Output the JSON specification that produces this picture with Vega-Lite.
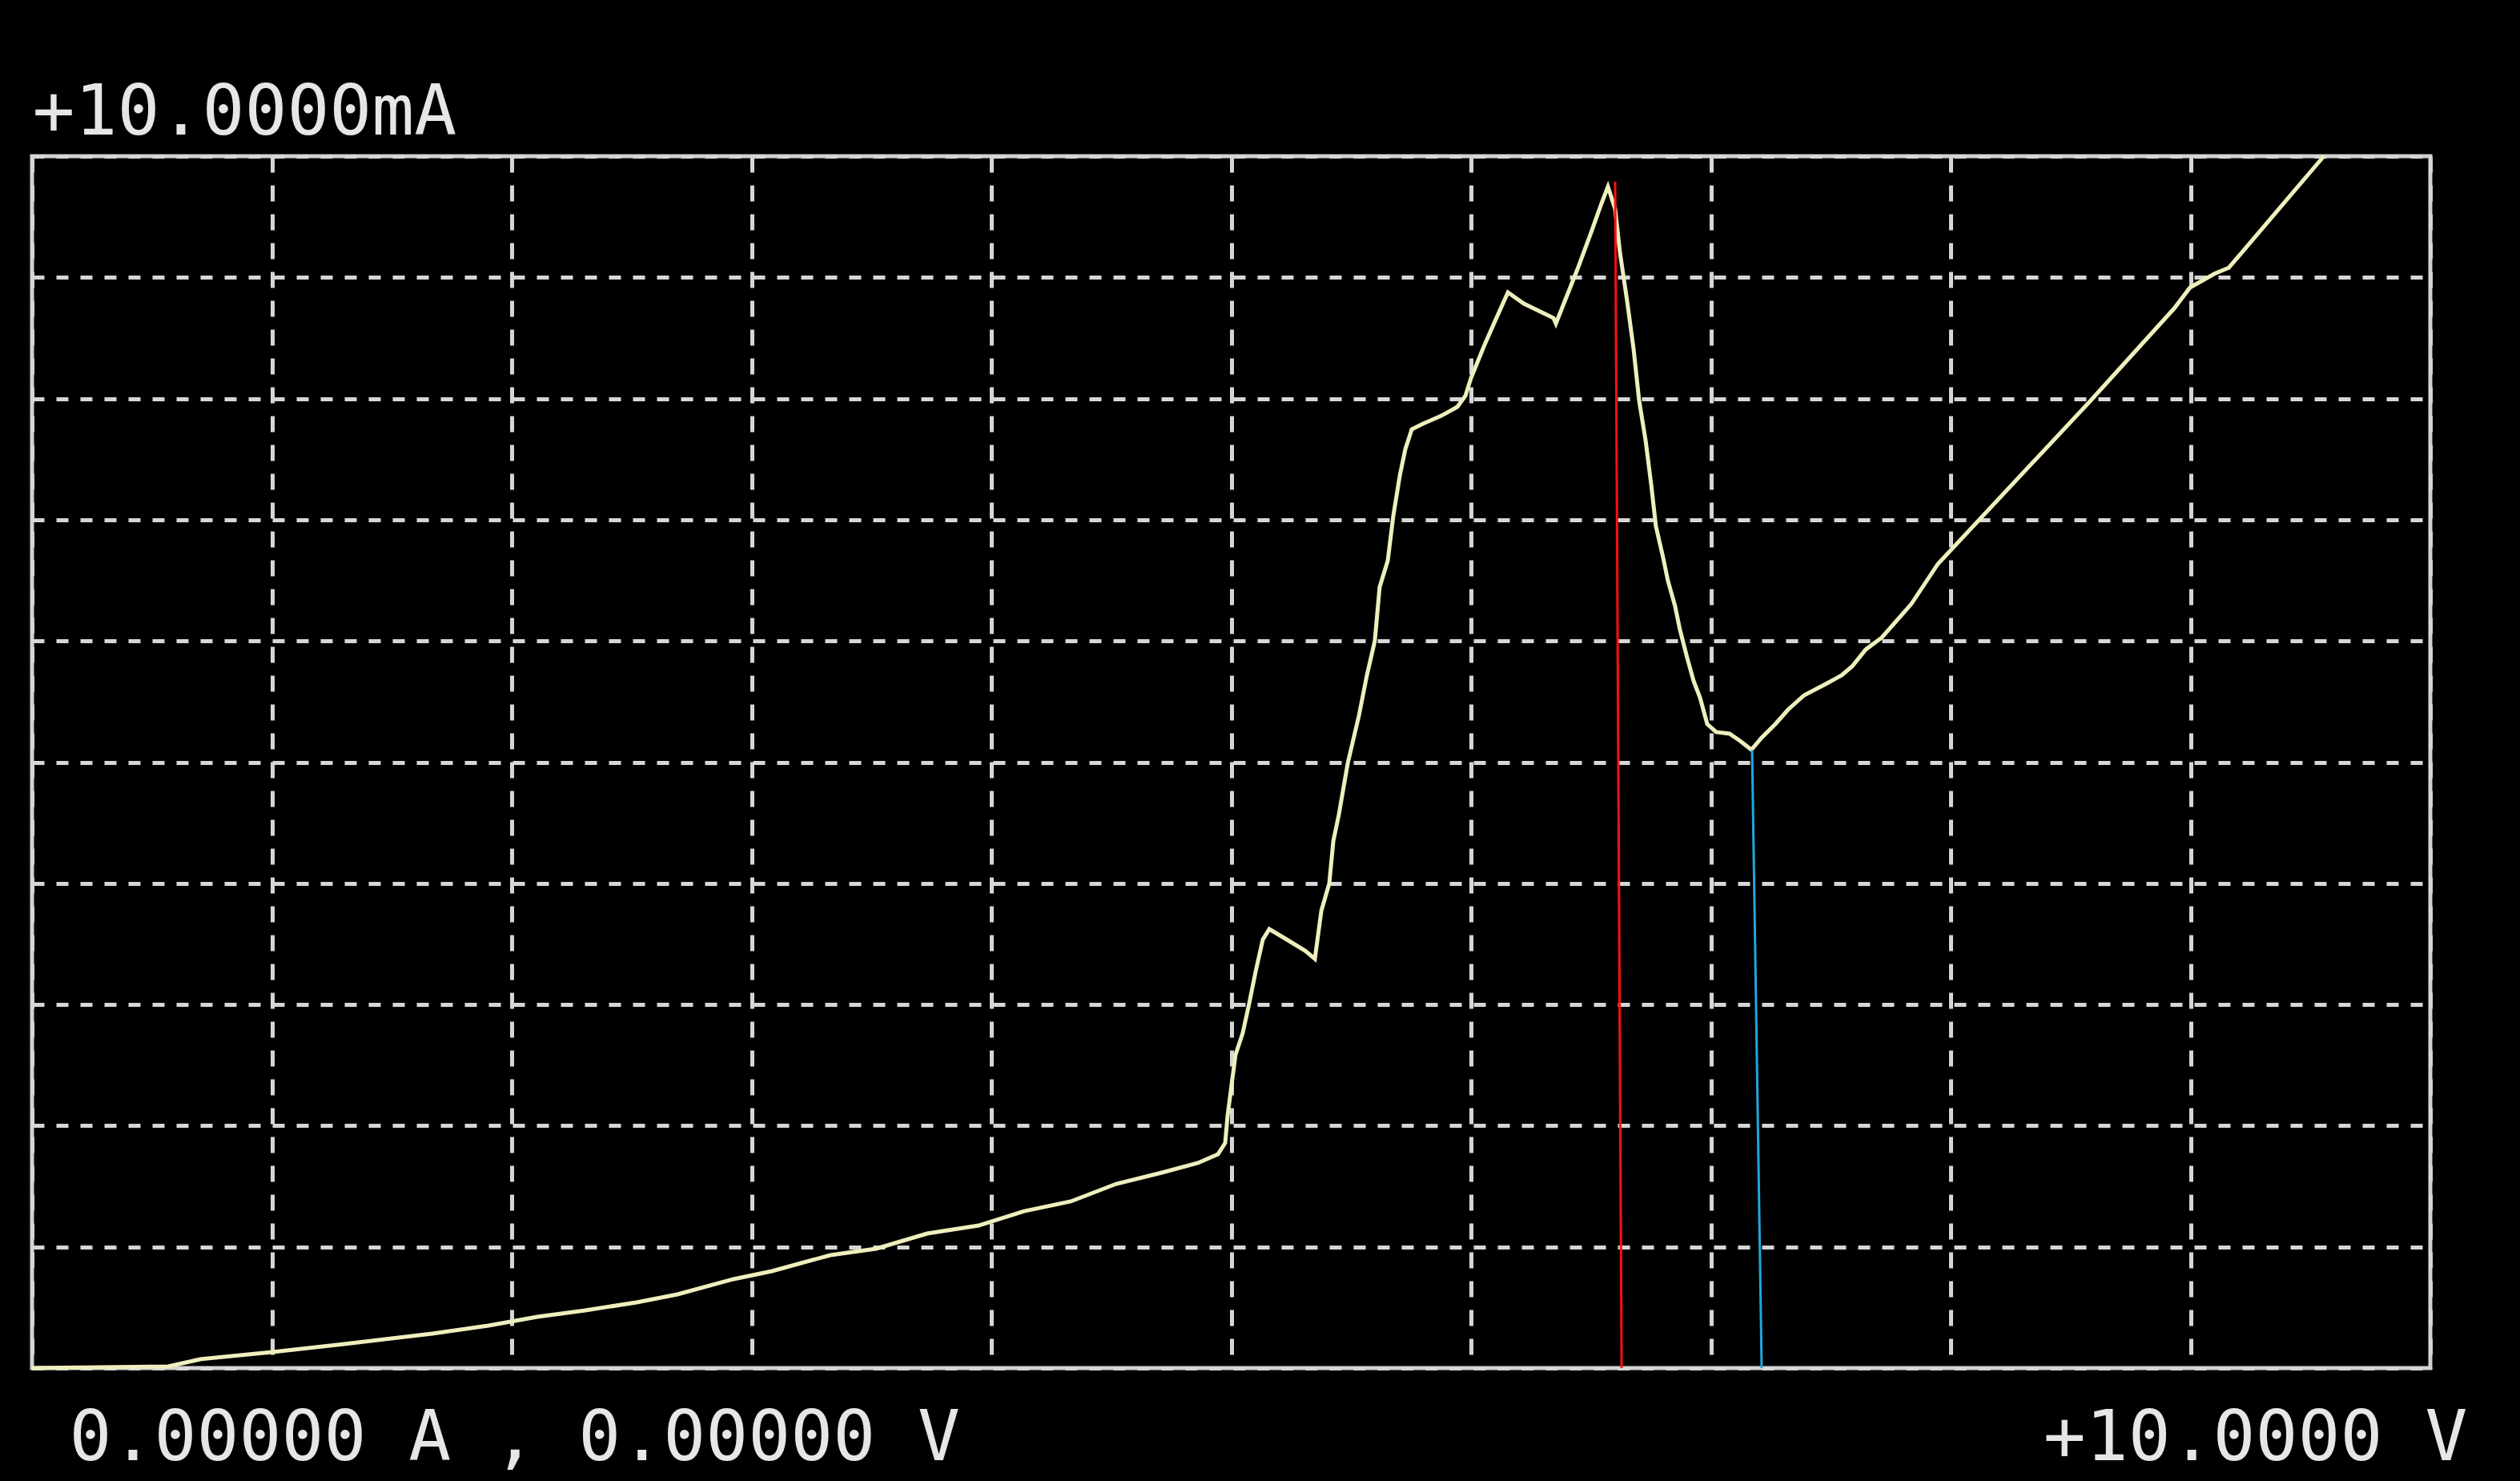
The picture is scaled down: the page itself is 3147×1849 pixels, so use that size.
{
  "$schema": "https://vega.github.io/schema/vega-lite/v6.json",
  "width": 2995,
  "height": 1513,
  "autosize": {"type": "none"},
  "padding": {"left": 40, "top": 195, "right": 112, "bottom": 141},
  "background": "#000000",
  "config": {
    "view": {"stroke": "#d2d2d2", "strokeWidth": 5, "fill": "#000000"}
  },
  "datasets": {
    "curve": [
      {"V": 0.0, "mA": 0.0},
      {"V": 0.568, "mA": 0.013},
      {"V": 0.701, "mA": 0.073},
      {"V": 1.002, "mA": 0.132},
      {"V": 1.302, "mA": 0.198},
      {"V": 1.669, "mA": 0.284},
      {"V": 1.903, "mA": 0.35},
      {"V": 2.107, "mA": 0.423},
      {"V": 2.307, "mA": 0.476},
      {"V": 2.521, "mA": 0.542},
      {"V": 2.691, "mA": 0.608},
      {"V": 2.925, "mA": 0.734},
      {"V": 3.085, "mA": 0.8},
      {"V": 3.329, "mA": 0.932},
      {"V": 3.519, "mA": 0.985},
      {"V": 3.733, "mA": 1.11},
      {"V": 3.947, "mA": 1.176},
      {"V": 4.137, "mA": 1.295},
      {"V": 4.331, "mA": 1.375},
      {"V": 4.521, "mA": 1.52},
      {"V": 4.711, "mA": 1.613},
      {"V": 4.861, "mA": 1.692},
      {"V": 4.945, "mA": 1.765},
      {"V": 4.975, "mA": 1.857},
      {"V": 4.985, "mA": 2.082},
      {"V": 5.018, "mA": 2.584},
      {"V": 5.048, "mA": 2.763},
      {"V": 5.075, "mA": 3.007},
      {"V": 5.102, "mA": 3.272},
      {"V": 5.132, "mA": 3.536},
      {"V": 5.159, "mA": 3.622},
      {"V": 5.232, "mA": 3.536},
      {"V": 5.309, "mA": 3.443},
      {"V": 5.349, "mA": 3.377},
      {"V": 5.376, "mA": 3.774},
      {"V": 5.409, "mA": 3.999},
      {"V": 5.426, "mA": 4.349},
      {"V": 5.449, "mA": 4.567},
      {"V": 5.486, "mA": 4.99},
      {"V": 5.533, "mA": 5.387},
      {"V": 5.566, "mA": 5.717},
      {"V": 5.599, "mA": 6.001},
      {"V": 5.619, "mA": 6.444},
      {"V": 5.653, "mA": 6.662},
      {"V": 5.676, "mA": 7.032},
      {"V": 5.703, "mA": 7.363},
      {"V": 5.726, "mA": 7.581},
      {"V": 5.753, "mA": 7.746},
      {"V": 5.8, "mA": 7.792},
      {"V": 5.876, "mA": 7.858},
      {"V": 5.943, "mA": 7.931},
      {"V": 5.977, "mA": 8.024},
      {"V": 6.0, "mA": 8.169},
      {"V": 6.053, "mA": 8.427},
      {"V": 6.1, "mA": 8.638},
      {"V": 6.154, "mA": 8.876},
      {"V": 6.22, "mA": 8.784},
      {"V": 6.344, "mA": 8.665},
      {"V": 6.354, "mA": 8.619},
      {"V": 6.387, "mA": 8.784},
      {"V": 6.444, "mA": 9.068},
      {"V": 6.501, "mA": 9.372},
      {"V": 6.544, "mA": 9.61},
      {"V": 6.571, "mA": 9.749},
      {"V": 6.601, "mA": 9.564},
      {"V": 6.621, "mA": 9.207},
      {"V": 6.651, "mA": 8.804},
      {"V": 6.678, "mA": 8.407},
      {"V": 6.701, "mA": 7.984},
      {"V": 6.728, "mA": 7.654},
      {"V": 6.751, "mA": 7.297},
      {"V": 6.771, "mA": 6.946},
      {"V": 6.801, "mA": 6.689},
      {"V": 6.821, "mA": 6.497},
      {"V": 6.851, "mA": 6.286},
      {"V": 6.871, "mA": 6.094},
      {"V": 6.901, "mA": 5.863},
      {"V": 6.928, "mA": 5.671},
      {"V": 6.955, "mA": 5.532},
      {"V": 6.985, "mA": 5.314},
      {"V": 7.022, "mA": 5.248},
      {"V": 7.078, "mA": 5.235},
      {"V": 7.122, "mA": 5.175},
      {"V": 7.169, "mA": 5.102},
      {"V": 7.212, "mA": 5.202},
      {"V": 7.269, "mA": 5.314},
      {"V": 7.322, "mA": 5.433},
      {"V": 7.389, "mA": 5.552},
      {"V": 7.479, "mA": 5.644},
      {"V": 7.546, "mA": 5.717},
      {"V": 7.589, "mA": 5.79},
      {"V": 7.646, "mA": 5.929},
      {"V": 7.713, "mA": 6.028},
      {"V": 7.836, "mA": 6.305},
      {"V": 7.947, "mA": 6.636},
      {"V": 8.578, "mA": 7.971},
      {"V": 8.932, "mA": 8.744},
      {"V": 8.998, "mA": 8.916},
      {"V": 9.1, "mA": 9.03},
      {"V": 9.16, "mA": 9.08},
      {"V": 9.556, "mA": 10.0}
    ],
    "cursors": [
      {"cursor": "A", "V1": 6.601, "I1": 9.79, "V2": 6.628, "I2": 0},
      {"cursor": "B", "V1": 7.172, "I1": 5.1, "V2": 7.212, "I2": 0}
    ]
  },
  "layer": [
    {
      "data": {"name": "curve"},
      "mark": {"type": "line", "color": "#efefbd", "strokeWidth": 5},
      "encoding": {
        "x": {
          "field": "V",
          "type": "quantitative",
          "scale": {"domain": [0, 10], "nice": false, "zero": false},
          "axis": {
            "values": [0, 1, 2, 3, 4, 5, 6, 7, 8, 9, 10],
            "labelExpr": "datum.value == 0 ? '0.00000 A , 0.00000 V' : (datum.value == 10 ? '+10.0000 V' : '')",
            "labelFlush": true,
            "labelOffset": 46,
            "labelPadding": 114,
            "labelBaseline": "alphabetic",
            "labelFont": "DejaVu Sans Mono",
            "labelFontSize": 88,
            "labelColor": "#e6e6e6",
            "labelLimit": 0,
            "labelOverlap": false,
            "labelBound": false,
            "ticks": false,
            "tickSize": 0,
            "domain": false,
            "grid": true,
            "gridColor": "#d6d6d6",
            "gridWidth": 5,
            "gridDash": [20, 16],
            "title": null
          }
        },
        "y": {
          "field": "mA",
          "type": "quantitative",
          "scale": {"domain": [0, 10], "nice": false, "zero": false},
          "axis": {
            "values": [0, 1, 2, 3, 4, 5, 6, 7, 8, 9, 10],
            "labelExpr": "datum.value == 10 ? '+10.0000mA' : ''",
            "labelAlign": "left",
            "labelBaseline": "alphabetic",
            "labelPadding": 0,
            "labelOffset": -28,
            "labelFont": "DejaVu Sans Mono",
            "labelFontSize": 88,
            "labelColor": "#e6e6e6",
            "labelLimit": 0,
            "labelOverlap": false,
            "labelBound": false,
            "labelFlush": false,
            "ticks": false,
            "tickSize": 0,
            "domain": false,
            "grid": true,
            "gridColor": "#d6d6d6",
            "gridWidth": 5,
            "gridDash": [15, 15],
            "title": null
          }
        }
      }
    },
    {
      "data": {"name": "cursors"},
      "mark": {"type": "rule", "strokeWidth": 3},
      "encoding": {
        "x": {"field": "V1", "type": "quantitative", "title": null},
        "x2": {"field": "V2"},
        "y": {"field": "I1", "type": "quantitative", "title": null},
        "y2": {"field": "I2"},
        "color": {
          "field": "cursor",
          "type": "nominal",
          "scale": {"domain": ["A", "B"], "range": ["#ff1010", "#1ea8e0"]},
          "legend": null
        }
      }
    }
  ]
}
